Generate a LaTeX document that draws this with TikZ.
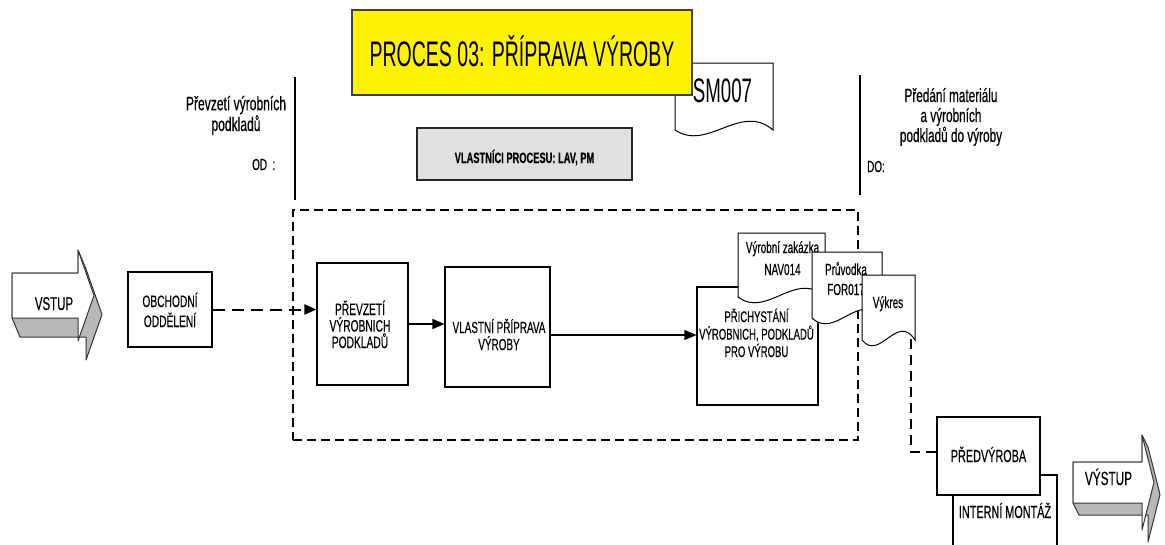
\documentclass[tikz,border=0pt]{standalone}
\usepackage{fontspec}
\setmainfont{Liberation Sans}
\newfontfamily\nar[FakeStretch=0.62,FakeBold=0.35]{Liberation Sans}
\newfontfamily\narbig[FakeStretch=0.55]{Liberation Sans}
\usetikzlibrary{arrows.meta,calc}

\newcommand\fsz[2]{\fontsize{#1}{#2}\selectfont}

% document symbol with a wavy lower edge: x1, top, x2, bottom
\newcommand\docshape[4]{%
  \filldraw[docline] (#1,#2) -- (#3,#2) -- (#3,#4)
    .. controls ({#3-(#3-#1)/3},{#4-28}) and ({#1+(#3-#1)/3},{#4+22}) .. (#1,#4) -- cycle;}

\tikzset{
  box/.style={draw=black, line width=1.1pt, fill=white, inner sep=0pt},
  lbl/.style={inner sep=0pt, align=center, anchor=base},
  flow/.style={line width=1.4pt, -{Triangle[length=12pt,width=10pt]}},
  dashflow/.style={line width=2pt, dash pattern=on 12pt off 7pt, -{Triangle[length=12pt,width=10pt]}},
  dashlink/.style={line width=1.8pt, dash pattern=on 10pt off 6pt},
  docline/.style={draw=black, line width=1pt, fill=white},
  bar/.style={line width=2.5pt},
  frame/.style={draw=black, line width=1.8pt, dash pattern=on 9pt off 5pt, inner sep=0pt},
  titlebox/.style={draw=black!75, line width=1.5pt, fill=yellow, inner sep=0pt,
    minimum width=340pt, minimum height=85pt, font=\narbig\fsz{35.5}{40},
    text height=27pt, text depth=0pt},
  owner/.style={draw=black!85, line width=1.5pt, fill=black!12, inner sep=0pt,
    minimum width=215pt, minimum height=52pt, font=\nar\bfseries\fsz{15}{18},
    text height=18pt, text depth=0pt},
  arrowside/.style={draw=black!80, line width=1pt, fill=black!28, line join=round},
  arrowface/.style={draw=black!80, line width=1pt, fill=white, line join=round},
}

\begin{document}
\begin{tikzpicture}[x=1pt,y=-1pt]
\clip (0,0) rectangle (1165,544);

% reference document partly hidden by the title
\docshape{675}{63}{773}{130}
\node[lbl, font=\narbig\fsz{34}{38}] (sm) at (722.5,102) {SM007};
\node[titlebox] (title) at (522,52.5) {PROCES 03: PŘÍPRAVA VÝROBY};

% start and end marks of the process (labels sit on their last baseline)
\draw[bar] (295,77) -- (295,200);
\draw[bar] (860,75) -- (860,195);
\node[lbl, font=\nar\fsz{19.5}{19}] (odtxt) at (236,131) {Převzetí výrobních\\podkladů};
\node[lbl, font=\nar\fsz{16}{18}, anchor=base west] (od) at (252,170) {OD \ :};
\node[lbl, font=\nar\fsz{19}{20}] (dotxt) at (951,142) {Předání materiálu\\a výrobních\\podkladů do výroby};
\node[lbl, font=\nar\fsz{16}{18}, anchor=base west] (do) at (867,172) {DO:};

\node[owner] (owner) at (524.5,154) {VLASTNÍCI PROCESU: LAV, PM};

% process boundary
\node[frame, minimum width=565pt, minimum height=230pt] (frame) at (575.5,325) {};

% process steps
\node[box, minimum width=84pt, minimum height=75pt] (obch) at (170,309.5) {};
\node[lbl, font=\nar\fsz{16.5}{20}] (obchT) at (170,327) {OBCHODNÍ\\ODDĚLENÍ};
\node[box, minimum width=91pt, minimum height=122pt] (prev) at (362.5,324) {};
\node[lbl, font=\nar\fsz{16.5}{16.5}] (prevT) at (360,348) {PŘEVZETÍ\\VÝROBNICH\\PODKLADŮ};
\node[box, minimum width=105pt, minimum height=120pt] (vlast) at (497.5,327) {};
\node[lbl, font=\nar\fsz{16}{17}] (vlastT) at (499,350) {VLASTNÍ PŘÍPRAVA\\VÝROBY};
\node[box, minimum width=121pt, minimum height=118pt] (prich) at (757.5,346) {};
\node[lbl, font=\nar\fsz{15.4}{17.5}] (prichT) at (756.5,357) {PŘICHYSTÁNÍ\\VÝROBNICH, PODKLADŮ\\PRO VÝROBU};

% output documents
\docshape{738}{233}{825}{297}
\node[lbl, font=\nar\fsz{16}{22}] (zak) at (782.5,275) {Výrobní zakázka\\NAV014};
\docshape{812}{252}{882}{318}
\node[lbl, font=\nar\fsz{16}{20}] (pruv) at (846,295) {Průvodka\\FOR017};
\docshape{862}{275}{915}{340}
\node[lbl, font=\nar\fsz{16}{20}] (vyk) at (888,308) {Výkres};
\coordinate (vykbot) at (911,339);

% flow between steps
\draw[dashflow] (obch.east) -- (obch.east -| prev.west);
\draw[flow] (prev.east) -- (prev.east -| vlast.west);
\draw[flow] ([yshift=-8pt]vlast.east) -- ([yshift=-8pt]vlast.east -| prich.west);

% follow-up processes
\node[box, minimum width=104pt, minimum height=85pt, font=\nar\fsz{17.5}{20},
  text height=12.5pt, text depth=11.5pt] (intern) at (1005,517.5) {INTERNÍ MONTÁŽ};
\node[box, minimum width=103pt, minimum height=78pt, font=\nar\fsz{17.5}{20},
  text height=12.5pt, text depth=0.5pt] (predv) at (988.5,456) {PŘEDVÝROBA};
\draw[dashlink] (vykbot) |- ([yshift=4pt]predv.west);

% input block arrow
\filldraw[arrowside] (12,273) -- (78,273) -- (78,250) -- (86,269) -- (102,314.5) -- (86,360)
  -- (86,337) -- (20,337) -- (12,318) -- cycle;
\filldraw[arrowface] (12,273) -- (78,273) -- (78,250) -- (94,295.5) -- (78,341)
  -- (78,318) -- (12,318) -- cycle;
\node[lbl, font=\nar\fsz{18.5}{20}] (vstup) at (54,310) {VSTUP};

% output block arrow
\filldraw[arrowside] (1073,462) -- (1142,462) -- (1142,435) -- (1148,447) -- (1160,494.5)
  -- (1148,542) -- (1148,515) -- (1079,515) -- (1073,503) -- cycle;
\filldraw[arrowface] (1073,462) -- (1142,462) -- (1142,435) -- (1154,482.5) -- (1142,530)
  -- (1142,503) -- (1073,503) -- cycle;
\node[lbl, font=\nar\fsz{19}{20}] (vystup) at (1108.5,485) {VÝSTUP};
\end{tikzpicture}
\end{document}
